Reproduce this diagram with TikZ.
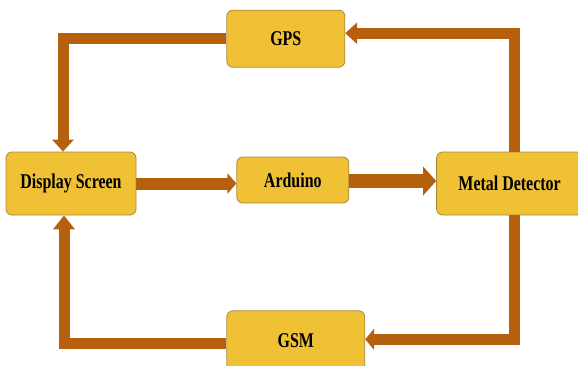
\documentclass[tikz,border=0pt]{standalone}
\usepackage{fontspec}
\newfontfamily\labelfont{Liberation Serif}[FakeStretch=0.76]
\usetikzlibrary{positioning, arrows.meta}
\definecolor{boxfill}{RGB}{240,193,52}
\definecolor{boxedge}{RGB}{170,138,62}
\definecolor{flowbrown}{RGB}{182,96,14}

\begin{document}
\begin{tikzpicture}[x=1pt, y=-1pt,
    block/.style={draw=boxedge, fill=boxfill, line width=0.8pt, rounded corners=6pt, inner sep=0pt,
        font=\labelfont\bfseries\fontsize{21}{25}\selectfont},
    flow/.style={draw=flowbrown, line width=11pt, line join=miter, -{Triangle[width=21pt, length=12pt]}}]
    \useasboundingbox (0,0) rectangle (578,365);

    \node[block, minimum width=130pt, minimum height=63pt] (disp) at (71,183.5) {Display Screen};
    \node[block, minimum width=112pt, minimum height=46pt, right=100pt of disp, yshift=3.5pt] (ard) {Arduino};
    \node[block, minimum width=146pt, minimum height=63pt, right=87pt of ard, yshift=-3.5pt] (det) {Metal Detector};
    \node[block, minimum width=118pt, minimum height=57pt, above right=84pt and 90pt of disp] (gps) {GPS};
    \node[block, minimum width=138pt, minimum height=60pt, below right=95pt and 90pt of disp] (gsm) {GSM};

    \draw[flow] (gps.west) -| ([xshift=-8pt]disp.north);
    \draw[flow] ([xshift=5pt]det.north) |- ([yshift=5.5pt]gps.east);
    \draw[flow, line width=12pt, -{Triangle[width=20pt, length=9pt]}] (disp.east) -- (disp.east -| ard.west);
    \draw[flow, line width=14pt, -{Triangle[width=28pt, length=13pt]}] ([yshift=-1pt]ard.east) -- ([yshift=-1pt]ard.east -| det.west);
    \draw[flow, line width=10.5pt, -{Triangle[width=21pt, length=9pt]}] ([xshift=5pt]det.south) |- ([yshift=1.5pt]gsm.east);
    \draw[flow, -{Triangle[width=21pt, length=14pt]}] ([yshift=-3pt]gsm.west) -| ([xshift=-7pt]disp.south);
\end{tikzpicture}
\end{document}
